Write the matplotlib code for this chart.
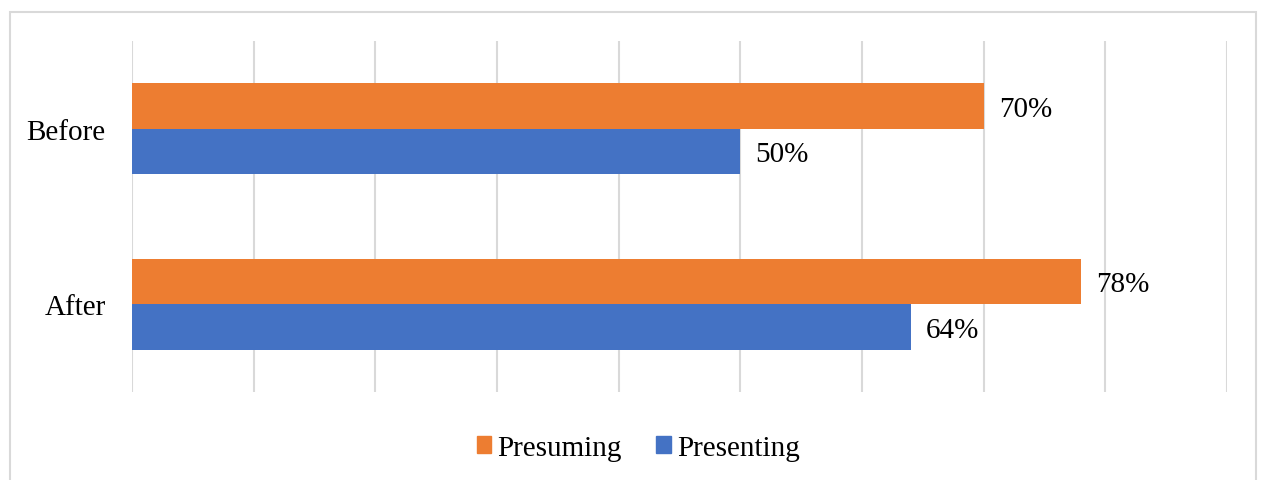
import matplotlib.pyplot as plt
from matplotlib.patches import Rectangle

# Data
categories = ["After", "Before"]
presuming = [0.78, 0.70]
presenting = [0.64, 0.50]
series_names = ["Presuming", "Presenting"]
colors = ["#ED7D31", "#4472C4"]

W, H, DPI = 1261, 481, 100
fig = plt.figure(figsize=(W / DPI, H / DPI), dpi=DPI)
plt.rcParams["font.family"] = ["Liberation Serif", "DejaVu Serif"]

# Chart area border
fig.patches.append(Rectangle((9.5 / W, -0.01), (1256 - 9.5) / W, 1.01 - 12.5 / H,
                             transform=fig.transFigure, fill=False,
                             edgecolor="#d9d9d9", linewidth=1.5))

ax = fig.add_axes([132 / W, 1 - 393 / H, (1227 - 132) / W, (393 - 42) / H])

bar_h = 0.26
ypos = list(range(len(categories)))
fs = 21

for vals, off, col in [(presuming, bar_h / 2, colors[0]), (presenting, -bar_h / 2, colors[1])]:
    ys = [y + off for y in ypos]
    ax.barh(ys, vals, height=bar_h, color=col, zorder=3)
    for y, v in zip(ys, vals):
        ax.annotate(f"{round(v * 100)}%", (v, y), xytext=(11, -2), textcoords="offset points",
                    va="center", ha="left", fontsize=fs, color="black")

ax.set_xlim(0, 0.9)
ax.set_ylim(-0.5, 1.5)
ax.set_xticks([i / 10 for i in range(10)])
ax.set_xticklabels([])
ax.set_yticks(ypos)
ax.set_yticklabels(categories, fontsize=fs, va="center_baseline")
ax.tick_params(axis="both", length=0)
ax.tick_params(axis="y", pad=19)
ax.grid(axis="x", color="#d9d9d9", linewidth=1.5, zorder=0)
for s in ax.spines.values():
    s.set_visible(False)

handles = [Rectangle((0, 0), 1, 1, color=c) for c in colors]
fig.legend(handles, series_names, loc="center", bbox_to_anchor=(638 / W, 1 - 449 / H),
           ncol=2, frameon=False, fontsize=fs, handlelength=0.5, handleheight=0.5,
           handletextpad=0.2, columnspacing=1.2)

fig.savefig("out.png", dpi=DPI)
